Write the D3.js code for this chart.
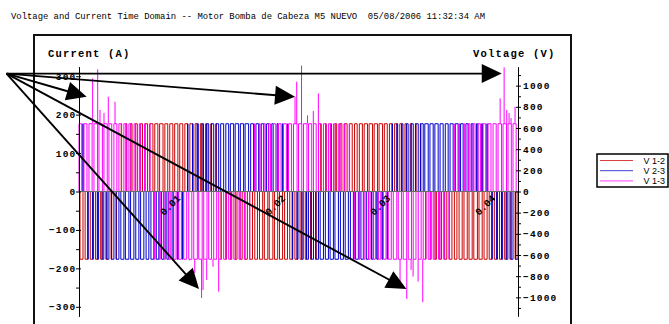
<!DOCTYPE html>
<html><head><meta charset="utf-8">
<script src="https://cdn.jsdelivr.net/npm/d3@7"></script>
<style>body{margin:0;background:#fff}svg{display:block}</style>
</head><body>
<svg id="c" width="669" height="324"></svg>
<script>
// ---------------- data ----------------
const titleText = "Voltage and Current Time Domain -- Motor Bomba de Cabeza M5 NUEVO  05/08/2006 11:32:34 AM";
const timeEnd = 0.0418;          // s, length of the record
const vdc = 640;                 // V, height of the PWM pulses
const seriesNames = ["V 1-2", "V 2-3", "V 1-3"];
// signed pulse width of every carrier slot, % of the slot (sign = polarity)
const v12Duty = [-60,-55,-48,-41,-32,-23,-12,-2,8,18,
  27,37,44,51,64,62,68,58,62,64,
  61,56,56,43,34,26,16,5,-5,-15,
  -24,-34,-42,-49,-55,-54,-64,-69,-72,-65,
  -62,-58,-52,-45,-37,-28,-19,-9,2,12,
  22,31,40,48,54,52,61,66,69,66,
  70,59,54,48,40,31,22,12,2,-9,
  -19,-28,-37,-45,-52,-51,-62,-65,-63,-72,
  -64,-61,-55,-49,-42,-34,-24,-15];
const v23Duty = [5,-5,-16,-26,-34,-43,-50,-56,-61,-70,
  -66,-62,-65,-55,-58,-51,-44,-37,-27,-18,
  -8,2,12,23,32,41,48,55,60,57,
  66,69,66,70,59,53,47,39,30,21,
  11,1,-9,-20,-29,-38,-46,-53,-65,-62,
  -66,-69,-60,-64,-60,-55,-49,-41,-33,-23,
  -14,-4,7,16,27,35,44,51,57,68,
  65,66,62,58,62,57,51,44,35,27,
  16,6,-4,-14,-23,-33,-41,-49];
const v13Duty = [55,60,63,72,69,66,56,59,53,47,
  39,30,21,11,1,-9,-20,-29,-38,-46,
  -53,-59,-62,-72,-69,-66,-57,-60,-55,-49,
  -41,-33,-23,-14,-4,7,16,27,35,44,
  51,57,62,71,66,69,65,55,57,51,
  44,35,27,16,6,-4,-14,-23,-33,-41,
  -49,-55,-60,-70,-66,-69,-66,-55,-59,-53,
  -46,-38,-29,-20,-9,1,11,21,30,39,
  47,53,59,63,70,69,66,63];
// ringing spikes on V 1-3: [time ms, volts]
const v13Spikes = [[1.30,1069],[1.78,1154],[2.00,770],[2.38,741],[2.79,895],[3.43,848],
  [10.54,-650],[11.02,-770],[11.67,-1005],[11.81,-930],[12.16,-836],[12.76,-710],[13.30,-946],
  [20.57,895],[20.73,1037],[21.19,1190],[21.76,720],[22.31,760],[22.79,927],
  [30.57,-865],[31.21,-1015],[31.62,-741],[31.81,-804],[32.29,-851],[32.73,-1046],
  [40.10,880],[40.48,1173],[40.73,770],[40.95,741],[41.14,694],[41.52,800]];
const currentTicks = [-300,-200,-100,0,100,200,300];
const currentMinor = [-250,-150,-50,50,150,250];
const voltageTicks = [-1000,-800,-600,-400,-200,0,200,400,600,800,1000];
const voltageMinor = [-1100,-900,-700,-500,-300,-100,100,300,500,700,900,1100];
const timeTicks = [0.01,0.02,0.03,0.04];
// annotation arrows, in data units [s, V]
const arrowOrigin = [-0.0069, 1114];
const arrowTargets = [[0.04025,1114],[0.00073,895],[0.02057,895],[0.01143,-921],[0.03118,-921]];

// ---------------- drawing ----------------
const colors = ["#cc0000", "#0000cc", "#ff00ff"];
const pulseShift = [0, 0.3, -0.3];   // position of the pulse inside its slot
const svg = d3.select("#c");
const mono = "'Courier New','Liberation Mono',monospace";

svg.append("text").attr("x", 11).attr("y", 18.8).style("white-space", "pre")
  .style("font-family", mono).style("font-size", "8.9px").attr("fill", "#000")
  .text(titleText);

// frame
svg.append("path").attr("d", "M34,330V35H571V330")
  .attr("fill", "none").attr("stroke", "#111").attr("stroke-width", 2);

const x = d3.scaleLinear().domain([0, timeEnd]).range([79, 518]);
const yV = d3.scaleLinear().domain([-1180, 1180]).range([316.4, 66.6]);
const yA = d3.scaleLinear().domain([-325, 325]).range([316.4, 66.6]);

svg.append("text").attr("x", 48).attr("y", 57).style("font-family", mono)
  .style("font-size", "10.5px").style("font-weight", "bold").style("letter-spacing", "1.2px")
  .text("Current (A)");
svg.append("text").attr("x", 473).attr("y", 57).style("font-family", mono)
  .style("font-size", "10.5px").style("font-weight", "bold").style("letter-spacing", "1.2px")
  .text("Voltage (V)");

// series
const slot = timeEnd / v12Duty.length;
function pulses(duty, shift) {
  const pts = [];
  duty.forEach((d, k) => {
    const s = k * slot, h = Math.abs(d) / 200 * slot, L = Math.sign(d) * vdc;
    const c = Math.min(Math.max(s + slot * (0.5 + shift), s + h), s + slot - h);
    pts.push([s, 0], [c - h, 0], [c - h, L], [c + h, L], [c + h, 0]);
  });
  pts.push([timeEnd, 0]);
  return pts;
}
const line = d3.line().x(d => x(d[0])).y(d => yV(d[1]));
const plot = svg.append("g");
[v12Duty, v23Duty, v13Duty].forEach((duty, i) => {
  plot.append("path").attr("d", line(pulses(duty, pulseShift[i]))).attr("fill", "none")
    .attr("stroke", colors[i]).attr("stroke-width", 1);
});
plot.selectAll("line.sp").data(v13Spikes).join("line").attr("class", "sp")
  .attr("x1", d => x(d[0] / 1000)).attr("x2", d => x(d[0] / 1000))
  .attr("y1", d => yV(Math.sign(d[1]) * vdc)).attr("y2", d => yV(d[1]))
  .attr("stroke", colors[2]).attr("stroke-width", 1);

// zero line
svg.append("line").attr("x1", x(0)).attr("x2", x(timeEnd)).attr("y1", yV(0)).attr("y2", yV(0))
  .attr("stroke", "#6a6a6a").attr("stroke-width", 1);

// axes
function styleAxis(g) {
  g.selectAll("line").attr("stroke", "#000");
  g.selectAll("path").attr("stroke", "#000");
  g.selectAll("text").style("font-family", mono).style("font-size", "9.5px")
    .style("font-weight", "bold").style("letter-spacing", "1.2px").attr("fill", "#000");
}
const gl = svg.append("g").attr("transform", "translate(79,0)");
gl.call(d3.axisLeft(yA).tickValues(currentTicks).tickSize(3).tickSizeOuter(0).tickPadding(0.2).tickFormat(d3.format("d")));
gl.append("g").call(d3.axisRight(yA).tickValues(currentTicks).tickSize(2).tickFormat("")).select(".domain").remove();
gl.append("g").call(d3.axisLeft(yA).tickValues(currentMinor).tickSize(3).tickFormat("")).select(".domain").remove();
styleAxis(gl);
gl.selectAll("text").attr("x", -3.7 + 1.2);

const gr = svg.append("g").attr("transform", "translate(518,0)");
gr.call(d3.axisRight(yV).tickValues(voltageTicks).tickSize(3).tickSizeOuter(0).tickPadding(2).tickFormat(d3.format("d")));
gr.append("g").call(d3.axisLeft(yV).tickValues(voltageTicks).tickSize(2).tickFormat("")).select(".domain").remove();
gr.append("g").call(d3.axisRight(yV).tickValues(voltageMinor).tickSize(3).tickFormat("")).select(".domain").remove();
styleAxis(gr);

// time labels along the zero line
svg.selectAll("text.tt").data(timeTicks).join("text").attr("class", "tt")
  .attr("transform", d => `translate(${x(d) - 3},${yV(0) + 7.5}) rotate(-45)`)
  .attr("text-anchor", "end").style("font-family", mono).style("font-size", "10px")
  .style("font-weight", "bold").attr("fill", "#000")
  .text(d => d.toFixed(2));

// annotation arrows
const ax = svg.append("g");
const o = [x(arrowOrigin[0]), yV(arrowOrigin[1])];
arrowTargets.forEach(t => {
  const p = [x(t[0]), yV(t[1])];
  const dx = p[0] - o[0], dy = p[1] - o[1], len = Math.hypot(dx, dy);
  const ux = dx / len, uy = dy / len, hl = 20, hw = 9.5;
  const b = [p[0] - ux * hl, p[1] - uy * hl];
  ax.append("line").attr("x1", o[0]).attr("y1", o[1]).attr("x2", b[0] + ux).attr("y2", b[1] + uy)
    .attr("stroke", "#000").attr("stroke-width", 1.9);
  ax.append("path").attr("d", `M${p[0]},${p[1]}L${b[0] - uy * hw},${b[1] + ux * hw}L${b[0] + uy * hw},${b[1] - ux * hw}Z`)
    .attr("fill", "#000");
});

// legend
const lg = svg.append("g");
lg.append("rect").attr("x", 597).attr("y", 154).attr("width", 71).attr("height", 33)
  .attr("fill", "#fff").attr("stroke", "#000").attr("stroke-width", 1.5);
seriesNames.forEach((n, i) => {
  const yy = 160.5 + i * 10.2;
  lg.append("line").attr("x1", 600).attr("x2", 633).attr("y1", yy).attr("y2", yy)
    .attr("stroke", colors[i]).attr("stroke-width", 1).attr("stroke-opacity", 0.75);
  lg.append("text").attr("x", 665).attr("y", yy + 3.3).attr("text-anchor", "end")
    .style("font-family", "'Liberation Sans',Arial,sans-serif").style("font-size", "9px").text(n);
});
</script></body></html>
